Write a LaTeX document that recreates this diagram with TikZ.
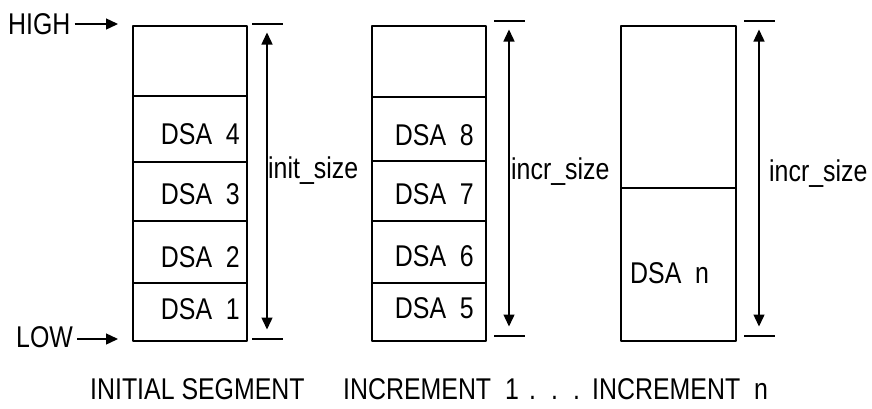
\documentclass[tikz,border=0pt]{standalone}
\usepackage{fontspec}
\setmainfont{Liberation Sans}[FakeStretch=0.83]
\usetikzlibrary{arrows.meta}
\begin{document}
\begin{tikzpicture}[x=1pt,y=-1pt,line join=round,>={Triangle[length=12pt,width=11pt]},
	font=\fontsize{30}{36}\selectfont,
	seg/.style={line width=1.6pt},
	tick/.style={line width=1.4pt},
	dim/.style={line width=1.4pt,<->,shorten <=8.5pt,shorten >=9.5pt},
	lbl/.style={inner sep=0pt,anchor=base east},
	txt/.style={inner sep=0pt,anchor=base west}]
	\useasboundingbox (0,0) rectangle (872,408);
	\def\ytop{26} \def\ybot{341}
	% the three segments
	\foreach \n/\xl/\xr in {1/133/247,2/372/486,3/621/736}{
		\coordinate (tl\n) at (\xl,\ytop);
		\coordinate (br\n) at (\xr,\ybot);
		\draw[seg] (tl\n) rectangle (br\n);
	}
	\foreach \y in {96,162,221,283}
	\draw[seg] (133,\y) -- (247,\y);
	\foreach \y in {97,161,221,283}
	\draw[seg] (372,\y) -- (486,\y);
	\draw[seg] (621,188) -- (736,188);
	% DSA labels
	\foreach \t/\x/\y in {4/240/144,3/240/204,2/240/267,1/240/319,8/474/145,7/474/204,6/474/266,5/474/318}
	\node[lbl] (dsa\t) at (\x,\y) {DSA\ \ \t};
	\node[txt] (dsan) at (630,283) {DSA\ \ n};
	% HIGH / LOW
	\node[txt] (high) at (8,34) {HIGH};
	\node[txt] (low) at (16,347) {LOW};
	\path
	(118,24) coordinate (hi)
	(118,339) coordinate (lo)
	;
	\draw[->,line width=1.4pt,shorten <=4pt] (high.east |- hi) -- (hi);
	\draw[->,line width=1.4pt,shorten <=4pt] (low.east |- lo) -- (lo);
	% size markers
	\foreach \n/\x/\a/\b in {1/267/24/339,2/509/21/336,3/759/21/336}{
		\coordinate (up\n) at (\x,\a);
		\coordinate (dn\n) at (\x,\b);
		\draw[tick] ([xshift=-15pt]up\n) -- ([xshift=16pt]up\n);
		\draw[tick] ([xshift=-15pt]dn\n) -- ([xshift=16pt]dn\n);
		\draw[dim] (up\n) -- (dn\n);
	}
	\node[txt] (init) at (268,178) {init\_size};
	\node[txt] (incra) at (511,179) {incr\_size};
	\node[txt] (incrb) at (769,181) {incr\_size};
	% captions
	\node[txt] (cap1) at (90,399) {INITIAL SEGMENT};
	\node[txt] (cap2) at (343,399) {INCREMENT\ \ 1};
	\node[txt] (dots) at (529,399) {.\hskip15pt.\hskip15pt.};
	\node[txt] (cap3) at (592,399) {INCREMENT\ \ n};
\end{tikzpicture}
\end{document}
